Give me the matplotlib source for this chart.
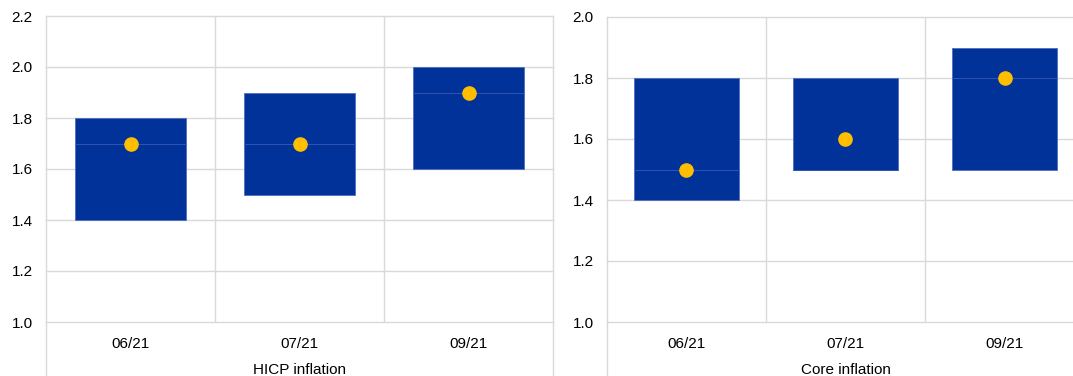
import matplotlib
matplotlib.use("Agg")
import matplotlib.pyplot as plt

plt.rcParams["font.family"] = ["Liberation Sans", "DejaVu Sans"]

categories = ["06/21", "07/21", "09/21"]

hicp_low = [1.4, 1.5, 1.6]
hicp_high = [1.8, 1.9, 2.0]
hicp_median = [1.7, 1.7, 1.9]
hicp_mean = [1.7, 1.7, 1.9]

core_low = [1.4, 1.5, 1.5]
core_high = [1.8, 1.8, 1.9]
core_median = [1.5, 1.5, 1.8]
core_mean = [1.5, 1.6, 1.8]

BAR_BLUE = "#003299"
MEDIAN_BLUE = "#2f55b0"
DOT_YELLOW = "#ffbf00"
GRID = "#d9d9d9"

W, H = 1073, 376


def draw_panel(ax, low, high, median, mean, ymax, title):
    x = list(range(len(categories)))
    heights = [h - l for l, h in zip(low, high)]
    ax.bar(x, heights, bottom=low, width=0.66, color=BAR_BLUE,
           edgecolor="#4d6fc0", linewidth=0.6, zorder=2)
    for xi, m in zip(x, median):
        ax.hlines(m, xi - 0.33, xi + 0.33, color=MEDIAN_BLUE,
                  linewidth=0.7, zorder=3)
    ax.plot(x, mean, linestyle="none", marker="o", markersize=9.5,
            color=DOT_YELLOW, zorder=4)

    ax.set_xlim(-0.5, len(categories) - 0.5)
    ax.set_ylim(1.0, ymax)
    ticks = [round(1.0 + 0.2 * i, 1) for i in range(int(round((ymax - 1.0) / 0.2)) + 1)]
    ax.set_yticks(ticks)
    ax.set_yticklabels([f"{t:.1f}" for t in ticks])
    ax.set_xticks(x)
    ax.set_xticklabels(categories)
    ax.tick_params(length=0, labelsize=11, colors="#000000")
    ax.tick_params(axis="y", pad=9.5)
    ax.tick_params(axis="x", pad=10.5)

    for s in ax.spines.values():
        s.set_visible(False)
    for t in ticks:
        ax.axhline(t, color=GRID, linewidth=1, zorder=1, clip_on=False)

    # separators between categories, outer ones run down to the bottom
    bottom = -(H - 322) / 306
    for b in [i - 0.5 for i in range(len(categories) + 1)]:
        if b in (-0.5, len(categories) - 0.5):
            ax.axvline(b, ymin=bottom, ymax=1, color=GRID, linewidth=1,
                       zorder=1, clip_on=False)
        else:
            ax.axvline(b, color=GRID, linewidth=1, zorder=1)

    ax.text(0.5, -48 / 306, title, transform=ax.transAxes, ha="center",
            va="center", fontsize=11)


fig = plt.figure(figsize=(W / 100, H / 100), dpi=100)
ax1 = fig.add_axes([46 / W, (H - 322) / H, (553 - 46) / W, 306 / H])
ax2 = fig.add_axes([607 / W, (H - 322) / H, (1084 - 607) / W, 305 / H])

draw_panel(ax1, hicp_low, hicp_high, hicp_median, hicp_mean, 2.2, "HICP inflation")
draw_panel(ax2, core_low, core_high, core_median, core_mean, 2.0, "Core inflation")

fig.savefig("out.png", dpi=100)
